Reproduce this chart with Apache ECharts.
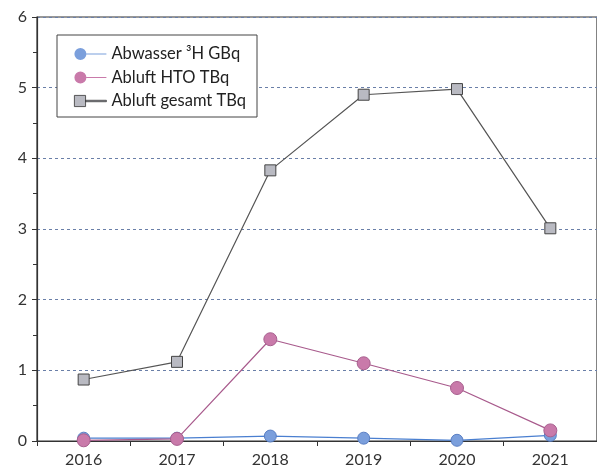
<!DOCTYPE html>
<html><head><meta charset="utf-8">
<script src="https://cdn.jsdelivr.net/npm/echarts@6/dist/echarts.min.js"></script>
<style>html,body{margin:0;padding:0;background:#fff}#c{width:597px;height:468px}</style>
</head><body><div id="c"></div>
<script>
const years = ['2016','2017','2018','2019','2020','2021'];
const abwasser = [0.04, 0.04, 0.07, 0.04, 0.01, 0.08];
const abluftHTO = [0.01, 0.03, 1.44, 1.10, 0.75, 0.15];
const abluftGesamt = [0.87, 1.12, 3.83, 4.90, 4.98, 3.01];
const names = ['Abwasser ³H GBq', 'Abluft HTO TBq', 'Abluft gesamt TBq'];

const circleIcon = 'path://M0,6A6,6 0 1,1 12,6A6,6 0 1,1 0,6Z M12,5.5L32,5.5L32,6.5L12,6.5Z';
const squareIcon = 'path://M0.5,0.5L11.5,0.5L11.5,11.5L0.5,11.5Z M11.5,5.3L32,5.3L32,6.7L11.5,6.7Z';

const chart = echarts.init(document.getElementById('c'));
const font = 'Lato';
chart.setOption({
  backgroundColor: '#ffffff',
  animation: false,
  textStyle: {fontFamily: font},
  grid: {left: 37, top: 17, width: 567, height: 424, show: true, borderColor: '#333', borderWidth: 1.2, backgroundColor: 'transparent'},
  legend: {
    left: 57, top: 35, orient: 'vertical',
    backgroundColor: '#fff', borderColor: '#444', borderWidth: 1,
    padding: [10, 11, 7, 17], itemGap: 5.5, itemWidth: 32, itemHeight: 12,
    textStyle: {fontFamily: font, fontSize: 16.5, lineHeight: 18, color: '#222'},
    data: [
      {name: names[0], icon: circleIcon, itemStyle: {color: '#7b9fdc', borderWidth: 0}},
      {name: names[1], icon: circleIcon, itemStyle: {color: '#c97aaa', borderWidth: 0}},
      {name: names[2], icon: squareIcon, itemStyle: {color: '#b9bac2', borderColor: '#333', borderWidth: 0.8}}
    ]
  },
  xAxis: {
    type: 'category', data: years, boundaryGap: true,
    axisLine: {lineStyle: {color: '#333', width: 1.2}},
    axisTick: {show: true, length: 5, inside: false, lineStyle: {color: '#333'}},
    axisLabel: {fontSize: 16, color: '#333', margin: 11, fontFamily: font}
  },
  yAxis: {
    type: 'value', min: 0, max: 6, interval: 1,
    axisLine: {show: true, lineStyle: {color: '#333', width: 1.2}},
    axisTick: {show: true, length: 5, lineStyle: {color: '#333'}},
    minorTick: {show: true, splitNumber: 2, length: 4, lineStyle: {color: '#333'}},
    axisLabel: {fontSize: 16, color: '#333', margin: 10, fontFamily: font},
    splitLine: {show: true, lineStyle: {color: '#6a7fa8', type: [3, 3], width: 1}}
  },
  series: [
    {name: names[0], type: 'line', data: abwasser, symbol: 'circle', symbolSize: 12,
     lineStyle: {color: '#4a7fd0', width: 1.2}, itemStyle: {color: '#7b9fdc', borderColor: '#5a7fc4', borderWidth: 1}, z: 3},
    {name: names[1], type: 'line', data: abluftHTO, symbol: 'circle', symbolSize: 13,
     lineStyle: {color: '#a85a8c', width: 1.2}, itemStyle: {color: '#c97aaa', borderColor: '#a8608f', borderWidth: 1}, z: 4},
    {name: names[2], type: 'line', data: abluftGesamt, symbol: 'rect', symbolSize: 11,
     lineStyle: {color: '#555', width: 1.2}, itemStyle: {color: '#b9bac2', borderColor: '#444', borderWidth: 1}, z: 2}
  ]
});
</script></body></html>
